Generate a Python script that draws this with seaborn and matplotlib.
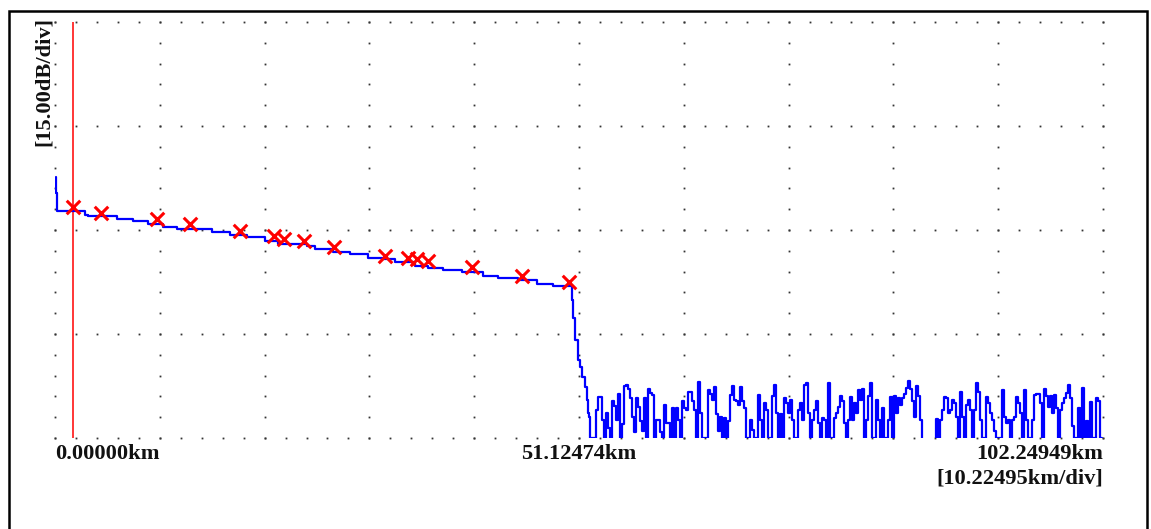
import numpy as np
import pandas as pd
import matplotlib
matplotlib.use("Agg")
import matplotlib.pyplot as plt
from matplotlib.patches import Rectangle
import seaborn as sns

# ---------------- data ----------------
KM_PER_DIV = 10.22495
DB_PER_DIV = 15.0
X_MAX = 102.24949
Y_MAX = 60.0

# fibre section of the OTDR trace (step points: distance km, level dB)
fiber_km = [0.05, 0.10, 0.166, 2.93, 3.25, 6.02, 7.64, 9.10, 10.57, 11.87, 15.29,
            17.07, 18.70, 20.49, 21.79, 24.59, 25.37, 27.12, 28.78, 30.54, 32.00,
            33.17, 35.12, 36.39, 37.86, 39.71, 41.76, 43.22, 45.17, 47.03, 48.59]
fiber_db = [37.6, 35.3, 32.78, 32.16, 32.02, 31.59, 31.30, 30.87, 30.48, 30.10, 29.67,
            29.28, 28.95, 28.46, 27.98, 27.69, 27.22, 26.87, 26.54, 26.00, 25.77,
            25.43, 24.81, 24.48, 24.23, 23.90, 23.37, 23.12, 22.79, 22.17, 21.92]

# fibre end fall-off
end_km = [50.44, 50.54, 50.73, 51.03, 51.22, 51.42, 51.71, 51.91, 52.00, 52.10]
end_db = [19.90, 17.31, 14.13, 11.25, 10.24, 8.80, 7.36, 5.48, 3.61, 3.03]

# noise floor after the fibre end
noise_start_km = 52.20
noise_step_km = 0.1951
noise_db = [
    0, 0, 0, 4.1, 5.9, 5.9, 2.6, 0, 3.6, 1.5, 0, 5.3, 4.6, 2.6, 6.4, 0, 2.0, 7.5, 7.6, 7.0,
    5.8, 3.1, 0.8, 5.7, 4.5, 2.5, 1.0, 5.7, 0, 7.0, 6.5, 6.2, 0, 2.6, 2.6, 0.8, 0, 4.8, 2.2, 2.2,
    0, 4.3, 0, 4.3, 2.6, 0, 5.3, 4.3, 4.1, 6.7, 6.7, 5.3, 4.1, 0, 8.1,
    3.6, 0, 0, 0, 6.9, 6.3, 5.5, 7.3, 3.4, 1.0, 3.1, 0, 2.9, 0, 2.4, 6.2, 7.5, 5.5, 5.3, 4.8,
    7.4, 5.3, 4.3, 0, 0, 2.6, 1.2, 0, 0, 6.2, 2.6, 0, 5.0, 4.1, 0, 0, 6.0, 7.7, 3.6, 0,
    3.4, 0, 5.8, 5.0, 3.6, 5.5, 2.6, 0, 0, 4.1, 5.0, 2.6, 7.6, 8.0, 3.6, 0, 2.6, 4.0, 5.3, 2.2,
    0, 2.9, 2.6, 0, 7.9, 0,
    0, 2.9, 3.6, 4.5, 6.1, 5.3, 2.2, 0, 2.6, 5.9, 2.6, 5.0, 3.6, 6.9, 5.5, 7.0, 0, 2.6, 6.0, 7.9,
    0, 0, 5.5, 2.6, 0, 4.3, 0, 0, 2.6, 5.9, 0, 6.0, 3.6, 5.7, 4.8, 5.7, 6.3, 7.2, 8.2, 7.0,
    5.3, 3.1, 7.5, 6.0, 2.6, -3, -3, -3, -3, -3, -3, -3, 2.8, 0, 2.6, 4.0, 5.9, 5.7, 3.6, 4.1,
    5.5, 5.0, 3.1,
    0, 6.7, 3.1, 0, 4.8, 5.5, 4.0, 0, 4.1, 8.0, 6.7, 2.6, 0, 0, 5.9, 5.0, 3.6, 2.6, 1.0, 0,
    0, 0, 6.9, 3.1, 2.2, 2.6, 0, 2.6, 3.1, 5.9, 5.0, 3.6, 0, 6.9, 2.6, 0, 0, 2.6, 6.2, 6.3,
    6.4, 5.0, 0, 7.1, 6.0, 4.5, 6.0, 3.6, 6.2, 4.3, 0, 4.1, 5.0, 5.8, 6.5, 7.7, 5.8, 1.7, 0, 0,
    4.3, 0, 7.2, 0, 2.4, 0, 5.2, 0, 0, 5.8, 5.3, 0, 0,
]

# event markers
event_km = [1.79, 4.49, 9.92, 13.17, 18.05, 21.40, 22.37, 24.29, 27.22, 32.20,
            34.47, 35.35, 36.42, 40.66, 45.53, 50.18]
event_db = [33.27, 32.41, 31.54, 30.87, 29.90, 29.14, 28.70, 28.46, 27.50, 26.29,
            25.92, 25.77, 25.53, 24.62, 23.37, 22.45]

cursor_km = 1.80

x_labels = ["0.00000km", "51.12474km", "102.24949km"]
x_scale_label = "[10.22495km/div]"
y_scale_label = "[15.00dB/div]"

# ---------------- build trace ----------------
noise_km = [noise_start_km + i * noise_step_km for i in range(len(noise_db))]
trace = pd.DataFrame({
    "km": fiber_km + end_km + noise_km,
    "db": fiber_db + end_db + noise_db,
})
events = pd.DataFrame({"km": event_km, "db": event_db})

# ---------------- figure ----------------
sns.set_style("white")
plt.rcParams["font.family"] = ["Liberation Serif", "DejaVu Serif"]

W, H = 1151, 529
fig = plt.figure(figsize=(W / 100, H / 100), dpi=100)
fig.patch.set_facecolor("white")
L, R, T, B = 55, 1103, 22, 438
ax = fig.add_axes([L / W, 1 - B / H, (R - L) / W, (B - T) / H])
ax.set_xlim(0, X_MAX)
ax.set_ylim(0, Y_MAX)
ax.set_axis_off()

# dotted grid
major_x = np.arange(0, 11) * KM_PER_DIV
minor_x = np.arange(0, 51) * KM_PER_DIV / 5
major_y = np.arange(0, 5) * DB_PER_DIV
minor_y = np.arange(0, 21) * DB_PER_DIV / 5
gx, gy = [], []
for xv in major_x:
    gx.extend([xv] * len(minor_y)); gy.extend(minor_y)
for yv in major_y:
    gx.extend(minor_x); gy.extend([yv] * len(minor_x))
ax.plot(gx, gy, ls="none", marker="s", ms=1.3, mew=0, color="#333333",
        clip_on=False, zorder=1)

# cursor
ax.axvline(cursor_km, color="#FF0000", lw=1.1, zorder=2)

# trace
sns.lineplot(data=trace, x="km", y="db", ax=ax, color="#0000FF", lw=1.6,
             drawstyle="steps-post", estimator=None, sort=False, zorder=3)

# events
sns.scatterplot(data=events, x="km", y="db", ax=ax, marker="x", s=95,
                color="#FF0000", linewidth=2.2, zorder=4)

# texts
def ftxt(x, y, s, **kw):
    fig.text(x / W, 1 - y / H, s, fontsize=16.2, fontweight="bold",
             color="#111111", **kw)

ftxt(L, 459, x_labels[0], ha="left", va="baseline")
ftxt((L + R) / 2, 459, x_labels[1], ha="center", va="baseline")
ftxt(R, 459, x_labels[2], ha="right", va="baseline")
ftxt(R, 484, x_scale_label, ha="right", va="baseline")
ftxt(44, 82, y_scale_label, ha="center", va="center", rotation=90)

# frame around the picture
fig.add_artist(Rectangle((8.5 / W, -0.02), (1147 - 8.5) / W, 1 - 10.5 / H + 0.02,
                         fill=False, lw=1.8, edgecolor="black",
                         transform=fig.transFigure))

fig.savefig("out.png", dpi=100)
